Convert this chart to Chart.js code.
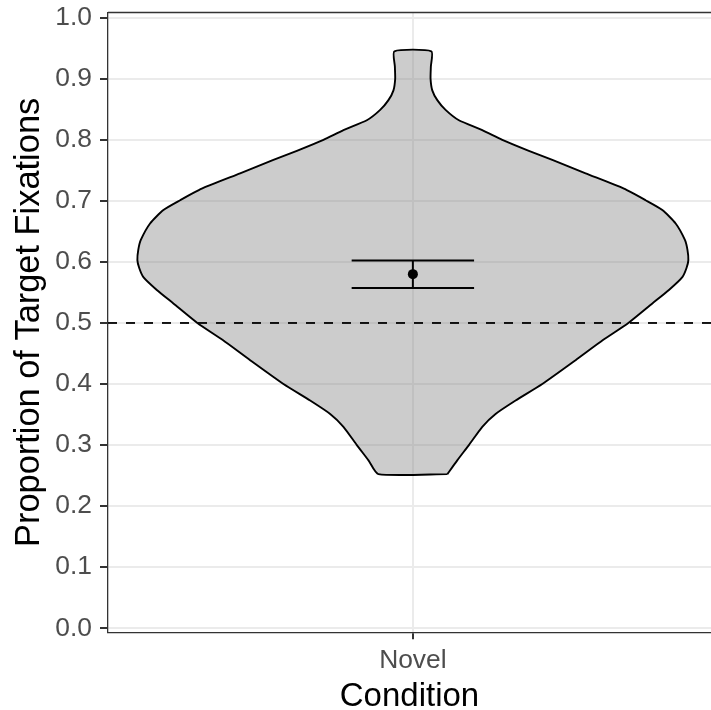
<!DOCTYPE html>
<html>
<head>
<meta charset="utf-8">
<script src="https://cdn.jsdelivr.net/npm/chart.js@4"></script>
<style>
  body { margin: 0; background: #ffffff; overflow: hidden; }
  #wrap { width: 711px; height: 710px; }
  canvas { display: block; }
</style>
</head>
<body>
<div id="wrap"><canvas id="violin-chart" width="711" height="710"></canvas></div>
<script>
// Violin of target fixation proportions (one condition)

const categories = ['Novel'];
const yTicks = [0.0, 0.1, 0.2, 0.3, 0.4, 0.5, 0.6, 0.7, 0.8, 0.9, 1.0];

// outline of the violin: proportion level and half width (in x units)
const violinY = [0.2525, 0.275, 0.30, 0.33, 0.351, 0.373, 0.40, 0.439, 0.472, 0.50,
                 0.532, 0.554, 0.575, 0.59, 0.603, 0.62, 0.636, 0.663, 0.685, 0.701,
                 0.720, 0.745, 0.767, 0.782, 0.80, 0.816, 0.832, 0.849, 0.865, 0.881,
                 0.90, 0.92, 0.945];
const violinHalfWidth = [0.0564, 0.0725, 0.0915, 0.1134, 0.1351, 0.1678, 0.2114, 0.2658, 0.3105, 0.352,
                         0.3912, 0.4183, 0.4402, 0.447, 0.45, 0.4485, 0.4444, 0.4293, 0.4075, 0.3802,
                         0.3448, 0.2822, 0.2278, 0.1895, 0.1461, 0.1134, 0.0752, 0.0534, 0.0399, 0.0317,
                         0.0289, 0.0294, 0.0302];

// mean with error bar
const meanValue = [0.580];
const errLow = [0.5574];
const errHigh = [0.6023];
const errCapHalf = 0.1;

const chanceLevel = 0.5;

const X_MIN = 0.502;
const X_MAX = 1.487;
const Y_MIN = -0.0066;
const Y_MAX = 1.0085;

const FONT = '"Liberation Sans", Arial, Helvetica, sans-serif';

function violinOutline(center) {
    var pts = [];
    // right side going up
    for (let i = 0; i < violinY.length; i++) {
        pts.push({ x: center + violinHalfWidth[i], y: violinY[i] });
    }
    // left side going down
    for (let i = violinY.length - 1; i >= 0; i--) {
        pts.push({ x: center - violinHalfWidth[i], y: violinY[i] });
    }
    pts.push(pts[0]);
    return pts;
}

function errorBarLines(center, i) {
    return [
        { x: center - errCapHalf, y: errHigh[i] }, { x: center + errCapHalf, y: errHigh[i] },
        { x: center + errCapHalf, y: null },
        { x: center - errCapHalf, y: errLow[i] }, { x: center + errCapHalf, y: errLow[i] },
        { x: center + errCapHalf, y: null },
        { x: center, y: errLow[i] }, { x: center, y: errHigh[i] }
    ];
}

// ggplot-style panel border on top
const panelTop = {
    id: 'panelTop',
    afterDraw(chart) {
        const ctx = chart.ctx;
        const area = chart.chartArea;
        ctx.save();
        ctx.strokeStyle = '#333333';
        ctx.lineWidth = 1.3;
        ctx.beginPath();
        ctx.moveTo(area.left, area.top);
        ctx.lineTo(area.right, area.top);
        ctx.stroke();
        ctx.restore();
    }
};

function createViolinChart() {
    const ctx = document.getElementById('violin-chart').getContext('2d');
    const center = 1;

    const data = {
        datasets: [
            {
                // mean point
                data: meanValue.map(v => ({ x: center, y: v })),
                showLine: false,
                pointRadius: 5,
                pointBackgroundColor: '#000000',
                pointBorderWidth: 0,
            },
            {
                data: errorBarLines(center, 0),
                borderColor: '#000000',
                borderWidth: 2,
                pointRadius: 0,
                spanGaps: false,
                fill: false,
            },
            {
                data: [{ x: X_MIN, y: chanceLevel }, { x: X_MAX, y: chanceLevel }],
                borderColor: '#000000',
                borderWidth: 1.8,
                borderDash: [9, 9],
                pointRadius: 0,
                fill: false,
            },
            {
                data: violinOutline(center),
                borderColor: '#000000',
                borderWidth: 1.9,
                backgroundColor: 'rgba(127,127,127,0.4)',
                pointRadius: 0,
                tension: 0.2,
                fill: 'shape',
            },
        ],
    };

    const config = {
        type: 'line',
        data: data,
        options: {
            responsive: false,
            animation: false,
            layout: { autoPadding: false, padding: { top: 12.5, left: 0, right: 0, bottom: 0 } },
            plugins: {
                legend: { display: false },
                tooltip: { enabled: false },
            },
            scales: {
                x: {
                    type: 'linear',
                    min: X_MIN,
                    max: X_MAX,
                    afterBuildTicks: function (scale) {
                        scale.ticks = categories.map((c, i) => ({ value: i + 1 }));
                    },
                    afterFit: function (scale) {
                        scale.height = 77.7;
                        scale.paddingLeft = 0;
                        scale.paddingRight = 0;
                    },
                    ticks: {
                        callback: function (value) { return categories[Math.round(value) - 1]; },
                        font: { family: FONT, size: 26.4, lineHeight: 1 },
                        color: '#4D4D4D',
                        padding: 8.4,
                        maxRotation: 0,
                    },
                    grid: {
                        color: '#EBEBEB',
                        lineWidth: 2,
                        tickColor: '#333333',
                        tickLength: 7,
                        tickWidth: 2,
                    },
                    border: { color: '#333333', width: 1.3 },
                    title: {
                        display: true,
                        text: 'Condition',
                        color: '#000000',
                        font: { family: FONT, size: 33, lineHeight: 0.8 },
                        padding: { top: 0, bottom: 0 },
                    },
                },
                y: {
                    type: 'linear',
                    min: Y_MIN,
                    max: Y_MAX,
                    afterBuildTicks: function (scale) {
                        scale.ticks = yTicks.map(v => ({ value: v }));
                    },
                    afterFit: function (scale) {
                        scale.width = 108;
                        scale.paddingTop = 0;
                        scale.paddingBottom = 0;
                    },
                    ticks: {
                        callback: function (value) { return value.toFixed(1); },
                        font: { family: FONT, size: 26.4, lineHeight: 1 },
                        color: '#4D4D4D',
                        padding: 8,
                    },
                    grid: {
                        color: '#EBEBEB',
                        lineWidth: 2,
                        tickColor: '#333333',
                        tickLength: 8,
                        tickWidth: 2,
                    },
                    border: { color: '#333333', width: 1.3 },
                    title: {
                        display: true,
                        text: 'Proportion of Target Fixations',
                        color: '#000000',
                        font: { family: FONT, size: 34.4, lineHeight: 1 },
                        padding: { top: 12.3, bottom: 0 },
                    },
                },
            },
        },
        plugins: [panelTop],
    };

    new Chart(ctx, config);
}

createViolinChart();
</script>
</body>
</html>
